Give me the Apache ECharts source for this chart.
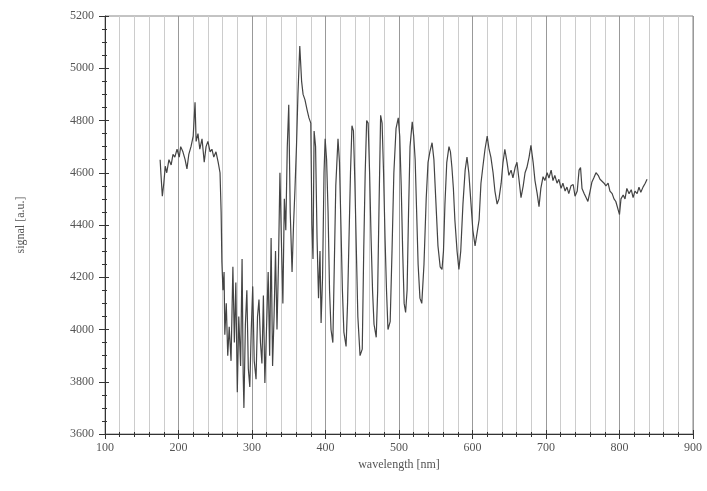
<!DOCTYPE html>
<html>
<head>
<meta charset="utf-8">
<script src="https://cdn.jsdelivr.net/npm/echarts@6/dist/echarts.min.js"></script>
<style>
  html, body { margin: 0; padding: 0; background: #fff; }
  #chart { width: 707px; height: 491px; }
</style>
</head>
<body>
<div id="chart"></div>
<script>
// wavelength [nm]
const wavelength = [
  175, 176, 178, 180, 182, 184, 187, 190, 192.5, 195, 198, 201, 203, 206, 209, 211.5, 214, 217, 220, 222.5,
  224, 226.5, 229, 232, 235, 237.5, 240, 243, 245.5, 248, 251, 254, 256.5, 258, 259, 260.5, 262, 263, 265, 267,
  269, 271.5, 274, 276, 278, 280, 282, 284.5, 286.5, 288, 289, 291, 293, 295, 297, 299, 301, 303, 305.5, 307.5,
  309.5, 311.5, 313.5, 315.5, 317.5, 319.5, 322, 324, 326, 328, 330, 332, 334, 336, 338, 340, 342, 344, 346, 348,
  350, 352, 354.5, 356.5, 358.5, 360.5, 362.5, 365, 367.5, 369.5, 372, 375, 377.5, 380, 381.5, 383, 384.5, 386.5, 388.5, 390.5,
  392.5, 394, 396, 398, 399.5, 401.5, 403.5, 405.5, 407.5, 410, 412, 414, 417, 419, 421, 423, 425, 428, 430, 432,
  434, 436, 438, 440, 442, 444, 447, 450, 452, 454, 456, 458, 460, 462, 464, 466, 469, 471, 473, 475,
  477, 479, 481, 483, 485, 488, 490.5, 493, 496, 499, 501, 503, 505, 507, 509, 511, 513, 515, 518, 520,
  522, 524, 526, 528.5, 531, 534, 537, 539.5, 542, 545, 547.5, 550, 553, 556, 558.5, 560.5, 562.5, 565, 568, 570,
  572, 574, 576, 579, 581.5, 584, 587, 590, 592.5, 595, 598, 600.5, 603.5, 606, 609, 611.5, 614, 617, 620, 622.5,
  625, 628, 630.5, 633.5, 636, 639, 641.5, 644, 647, 649.5, 652.5, 655, 658, 660.5, 663, 666, 669, 671.5, 674, 677,
  679.5, 682.5, 685, 688, 690.5, 693, 696, 698.5, 701.5, 704, 707, 709.5, 712, 715, 717.5, 720.5, 723, 726, 728.5, 731,
  734, 737, 739.5, 742.5, 745, 747, 749, 752, 754.5, 757, 760, 762.5, 765, 768, 771, 773.5, 776, 779, 781.5, 784.5,
  787, 790, 792.5, 795, 798, 800, 802, 805, 807.5, 810, 813, 816, 818.5, 821, 824, 826.5, 829, 832, 835, 837.5
];

// signal [a.u.]
const signal = [
  4650, 4600, 4510, 4560, 4625, 4600, 4650, 4630, 4670, 4660, 4690, 4660, 4700, 4680, 4650, 4615, 4670, 4700, 4740, 4870,
  4720, 4750, 4690, 4730, 4640, 4700, 4720, 4680, 4690, 4660, 4680, 4640, 4600, 4450, 4260, 4150, 4220, 3980, 4100, 3900,
  4010, 3880, 4240, 3950, 4180, 3760, 4050, 3860, 4270, 3830, 3700, 4020, 4150, 3850, 3780, 4000, 4165, 3880, 3810, 4050,
  4115, 3950, 3870, 4130, 3795, 3980, 4220, 3900, 4350, 3860, 4050, 4300, 4000, 4250, 4600, 4340, 4100, 4500, 4380, 4700,
  4860, 4450, 4220, 4400, 4540, 4700, 4900, 5085, 4950, 4900, 4880, 4840, 4810, 4790, 4400, 4270, 4760, 4700, 4350, 4120,
  4300, 4025, 4200, 4600, 4730, 4650, 4450, 4150, 4000, 3950, 4250, 4550, 4730, 4640, 4400, 4150, 3990, 3935, 4100, 4350,
  4600, 4780, 4760, 4560, 4300, 4050, 3900, 3925, 4300, 4600, 4800, 4790, 4600, 4350, 4150, 4020, 3970, 4150, 4500, 4820,
  4790, 4600, 4350, 4150, 4000, 4030, 4300, 4600, 4770, 4810, 4740, 4550, 4300, 4100, 4065, 4150, 4450, 4700, 4795, 4740,
  4650, 4450, 4250, 4120, 4100, 4250, 4500, 4640, 4680, 4715, 4650, 4500, 4320, 4240, 4230, 4300, 4480, 4640, 4700, 4680,
  4620, 4540, 4420, 4300, 4230, 4300, 4480, 4610, 4660, 4600, 4480, 4380, 4320, 4316, 4420, 4560, 4620, 4690, 4740, 4690,
  4660, 4600, 4530, 4480, 4500, 4560, 4640, 4690, 4640, 4590, 4610, 4580, 4620, 4640, 4580, 4505, 4550, 4600, 4620, 4660,
  4705, 4640, 4570, 4520, 4470, 4540, 4585, 4570, 4600, 4580, 4610, 4570, 4590, 4560, 4575, 4540, 4560, 4530, 4545, 4520,
  4550, 4555, 4510, 4530, 4610, 4620, 4540, 4520, 4505, 4490, 4530, 4565, 4580, 4600, 4590, 4575, 4570, 4560, 4550, 4560,
  4530, 4520, 4500, 4490, 4460, 4440, 4500, 4515, 4500, 4540, 4520, 4535, 4505, 4530, 4520, 4545, 4525, 4545, 4560, 4575
];

const xTicks = [100, 200, 300, 400, 500, 600, 700, 800, 900];
const yTicks = [3600, 3800, 4000, 4200, 4400, 4600, 4800, 5000, 5200];

const points = wavelength.map((w, i) => [w, signal[i]]);

const labelFont = {
  color: '#555',
  fontFamily: 'Liberation Serif',
  fontSize: 12
};

const chart = echarts.init(document.getElementById('chart'));
chart.setOption({
  animation: false,
  backgroundColor: '#fff',
  grid: {
    left: 105,
    right: 14,
    top: 16,
    bottom: 57,
    show: true,
    borderColor: '#888',
    borderWidth: 1
  },
  xAxis: [
    {
      type: 'value',
      min: xTicks[0],
      max: xTicks[xTicks.length - 1],
      interval: 100,
      name: 'wavelength [nm]',
      nameLocation: 'middle',
      nameGap: 24,
      nameTextStyle: labelFont,
      axisLine: { onZero: false, lineStyle: { color: '#333', width: 1 } },
      axisTick: { length: 5, lineStyle: { color: '#333' } },
      minorTick: { show: true, splitNumber: 5, length: 3, lineStyle: { color: '#333' } },
      axisLabel: Object.assign({ margin: 8, formatter: (v) => String(v) }, labelFont),
      splitLine: { show: true, lineStyle: { color: '#999', width: 1 } },
      minorSplitLine: { show: true, lineStyle: { color: '#ccc', width: 1 } }
    },
    {
      // second copy of the bottom axis, so the ticks cross the line
      type: 'value',
      position: 'bottom',
      min: xTicks[0],
      max: xTicks[xTicks.length - 1],
      interval: 100,
      axisLine: { show: false },
      axisTick: { inside: true, length: 4, lineStyle: { color: '#333' } },
      minorTick: { show: true, splitNumber: 5, length: 2, lineStyle: { color: '#333' } },
      axisLabel: { show: false },
      splitLine: { show: false }
    }
  ],
  yAxis: [
    {
      type: 'value',
      min: yTicks[0],
      max: yTicks[yTicks.length - 1],
      interval: 200,
      name: 'signal [a.u.]',
      nameLocation: 'middle',
      nameGap: 78,
      nameTextStyle: labelFont,
      axisLine: { show: true, onZero: false, lineStyle: { color: '#333', width: 1 } },
      axisTick: { show: true, length: 6, lineStyle: { color: '#333' } },
      minorTick: { show: true, splitNumber: 4, length: 3, lineStyle: { color: '#333' } },
      axisLabel: Object.assign({ margin: 11, formatter: (v) => String(v) }, labelFont),
      splitLine: { show: false }
    },
    {
      type: 'value',
      position: 'left',
      min: yTicks[0],
      max: yTicks[yTicks.length - 1],
      interval: 200,
      axisLine: { show: false },
      axisTick: { show: true, inside: true, length: 4, lineStyle: { color: '#333' } },
      minorTick: { show: true, splitNumber: 4, length: 2, lineStyle: { color: '#333' } },
      axisLabel: { show: false },
      splitLine: { show: false }
    }
  ],
  series: [
    {
      type: 'line',
      data: points,
      showSymbol: false,
      lineStyle: { color: '#444', width: 1.2 },
      z: 3
    }
  ]
});
</script>
</body>
</html>
